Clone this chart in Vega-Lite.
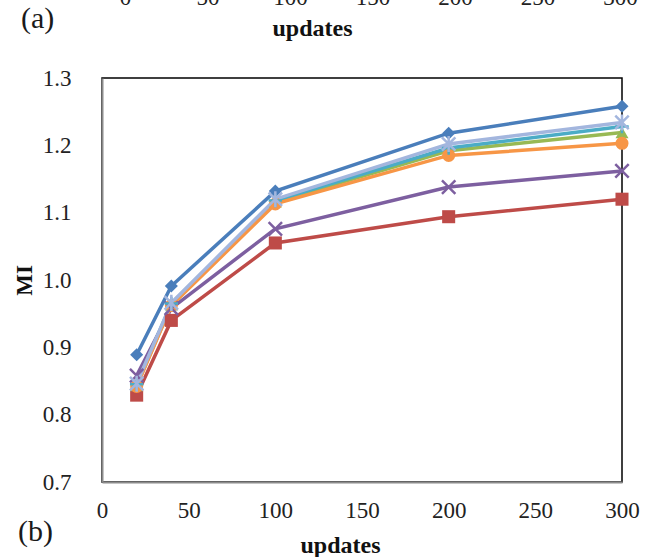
{
  "$schema": "https://vega.github.io/schema/vega-lite/v6.json",
  "width": 520,
  "height": 404,
  "autosize": {"type": "none"},
  "padding": {"left": 102, "top": 78, "right": 30, "bottom": 75},
  "background": "white",
  "config": {"view": {"stroke": "#000", "strokeWidth": 1.5}, "font": "Liberation Serif"},
  "title": {"text": "(a)", "anchor": "start", "frame": "group", "dx": -81, "dy": 52, "fontSize": 30, "font": "Liberation Serif", "fontWeight": "normal", "color": "#1a1a1a"},
  "data": {"values": [
    {"u": 20, "v": 0.889, "s": "1"}, {"u": 40, "v": 0.991, "s": "1"}, {"u": 100, "v": 1.132, "s": "1"}, {"u": 200, "v": 1.218, "s": "1"}, {"u": 300, "v": 1.258, "s": "1"},
    {"u": 20, "v": 0.829, "s": "2"}, {"u": 40, "v": 0.940, "s": "2"}, {"u": 100, "v": 1.055, "s": "2"}, {"u": 200, "v": 1.094, "s": "2"}, {"u": 300, "v": 1.120, "s": "2"},
    {"u": 20, "v": 0.843, "s": "3"}, {"u": 40, "v": 0.963, "s": "3"}, {"u": 100, "v": 1.116, "s": "3"}, {"u": 200, "v": 1.192, "s": "3"}, {"u": 300, "v": 1.219, "s": "3"},
    {"u": 20, "v": 0.858, "s": "4"}, {"u": 40, "v": 0.958, "s": "4"}, {"u": 100, "v": 1.076, "s": "4"}, {"u": 200, "v": 1.138, "s": "4"}, {"u": 300, "v": 1.162, "s": "4"},
    {"u": 20, "v": 0.845, "s": "5"}, {"u": 40, "v": 0.965, "s": "5"}, {"u": 100, "v": 1.118, "s": "5"}, {"u": 200, "v": 1.196, "s": "5"}, {"u": 300, "v": 1.228, "s": "5"},
    {"u": 20, "v": 0.842, "s": "6"}, {"u": 40, "v": 0.962, "s": "6"}, {"u": 100, "v": 1.113, "s": "6"}, {"u": 200, "v": 1.185, "s": "6"}, {"u": 300, "v": 1.203, "s": "6"},
    {"u": 20, "v": 0.846, "s": "7"}, {"u": 40, "v": 0.966, "s": "7"}, {"u": 100, "v": 1.120, "s": "7"}, {"u": 200, "v": 1.202, "s": "7"}, {"u": 300, "v": 1.234, "s": "7"}
  ]},
  "layer": [
    {
      "encoding": {
        "x": {"field": "u", "type": "quantitative", "scale": {"domain": [0, 300], "nice": false},
          "axis": {"values": [0, 50, 100, 150, 200, 250, 300], "grid": false, "ticks": false, "domainColor": "#8c8c8c", "domainWidth": 2,
            "labelFontSize": 23, "labelPadding": 17, "labelColor": "#222", "labelFlush": false, "labelOverlap": false,
            "title": "updates", "titleFontSize": 24, "titleFontWeight": "bold", "titleColor": "#111", "titleX": 238, "titleY": 70, "titleAlign": "center", "titleBaseline": "alphabetic"}},
        "y": {"field": "v", "type": "quantitative", "scale": {"domain": [0.7, 1.3], "nice": false, "zero": false},
          "axis": {"values": [0.7, 0.8, 0.9, 1.0, 1.1, 1.2, 1.3], "format": ".1f", "grid": false, "ticks": false, "domainColor": "#8c8c8c", "domainWidth": 2,
            "labelFontSize": 23, "labelPadding": 31, "labelColor": "#222", "labelFlush": false, "labelOverlap": false,
            "title": "MI", "titleFontSize": 23, "titleFontWeight": "bold", "titleColor": "#111", "titleX": -78, "titleY": 202, "titleAlign": "center", "titleBaseline": "middle", "titleAngle": -90}},
        "color": {"field": "s", "type": "nominal", "legend": null,
          "scale": {"domain": ["1", "2", "3", "4", "5", "6", "7"], "range": ["#4a7ebb", "#be4b48", "#98b954", "#7d5fa0", "#4bacc6", "#f79646", "#a3b6de"]}}
      },
      "layer": [
        {
          "mark": {"type": "line", "strokeWidth": 3.5}
        },
        {
          "transform": [{"filter": {"field": "s", "oneOf": ["1", "2", "3", "6"]}}],
          "mark": {"type": "point", "filled": true, "opacity": 1, "size": 170},
          "encoding": {
            "shape": {"field": "s", "type": "nominal", "legend": null,
              "scale": {"domain": ["1", "2", "3", "4", "5", "6", "7"], "range": ["diamond", "square", "triangle-up", "M-1,-1L1,1M-1,1L1,-1", "M-1,0L1,0M0,-1L0,1", "circle", "M-1,-1L1,1M-1,1L1,-1M0,-1.2L0,1.2"]}}
          }
        },
        {
          "transform": [{"filter": {"field": "s", "oneOf": ["4", "5", "7"]}}],
          "mark": {"type": "point", "filled": false, "opacity": 1, "size": 180, "strokeWidth": 2.5},
          "encoding": {
            "shape": {"field": "s", "type": "nominal", "legend": null}
          }
        }
      ]
    },
    {
      "mark": {"type": "point", "opacity": 0},
      "encoding": {
        "x": {"field": "u", "type": "quantitative", "scale": {"domain": [-13.94, 301.2], "nice": false, "zero": false},
          "axis": {"orient": "top", "values": [0, 50, 100, 150, 200, 250, 300], "grid": false, "ticks": false, "domain": false,
            "labelFontSize": 23, "labelPadding": 74, "labelBaseline": "alphabetic", "labelColor": "#222", "labelFlush": false, "labelOverlap": false,
            "title": "updates", "titleFontSize": 24, "titleFontWeight": "bold", "titleColor": "#111", "titleX": 210, "titleY": -43, "titleAlign": "center", "titleBaseline": "alphabetic"}},
        "y": {"field": "v", "type": "quantitative",
          "axis": {"orient": "right", "grid": false, "ticks": false, "domain": false, "labels": false,
            "title": "(b)", "titleFontSize": 30, "titleFontWeight": "normal", "titleColor": "#1a1a1a", "titleX": -587, "titleY": 462, "titleAngle": 0, "titleAlign": "center", "titleBaseline": "alphabetic"}}
      }
    }
  ],
  "resolve": {"scale": {"x": "independent"}, "axis": {"x": "independent", "y": "independent"}}
}
